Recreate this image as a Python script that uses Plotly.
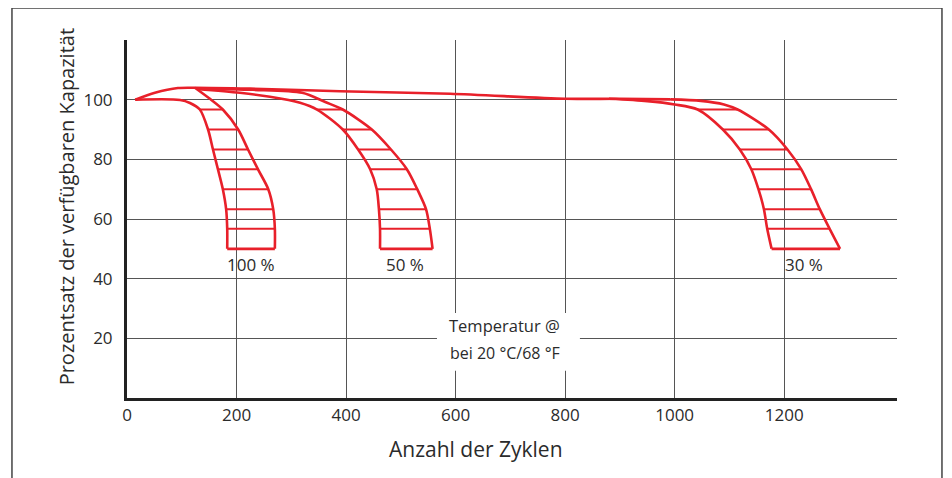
import plotly.graph_objects as go

RED = "#E8202A"
FONT = "Open Sans"
TXT = "#2b2b2b"

# Hatch levels (percent capacity) shared by all three bands
LEVELS = [96.7, 90.0, 83.3, 76.7, 70.0, 63.3, 56.7, 50.0]

# Long upper envelope line (cycles, %)
env_x = [15, 51, 93, 124, 225, 389, 590, 800, 900, 992]
env_y = [100, 102.3, 103.9, 104.0, 103.7, 102.8, 102.0, 100.3, 100.3, 100.1]

# 100 % depth of discharge band
b100_left_top_x = [15, 97, 115]
b100_left_top_y = [100, 99.9, 98.9]
b100_right_top_x = [124, 152]
b100_right_top_y = [104.0, 100.2]
b100_left = [133, 148, 157, 166, 175, 181, 183, 183]
b100_right = [175, 203, 221, 239, 258, 267, 270, 270]

# 50 % band
b50_left_top_x = [128, 206, 261, 316]
b50_left_top_y = [103.6, 102.3, 101.0, 99.0]
b50_right_top_x = [128, 230, 320, 362]
b50_right_top_y = [103.7, 103.3, 102.3, 99.2]
b50_left = [347, 394, 422, 444, 456, 460, 462, 462]
b50_right = [394, 447, 482, 511, 530, 546, 553, 558]

# 30 % band
b30_left_top_x = [880, 950, 1000]
b30_left_top_y = [100.3, 99.5, 98.4]
b30_right_top_x = [992, 1048, 1090]
b30_right_top_y = [100.1, 99.6, 98.4]
b30_left = [1042, 1088, 1119, 1140, 1153, 1163, 1169, 1177]
b30_right = [1115, 1172, 1206, 1231, 1249, 1265, 1283, 1302]

band_labels = ["100 %", "50 %", "30 %"]
label_x = [226, 507, 1237]
label_y = [44.6, 44.6, 44.6]

x_ticks = [0, 200, 400, 600, 800, 1000, 1200]
y_ticks = [20, 40, 60, 80, 100]

fig = go.Figure()

def add_line(x, y, width=2.6, spline=True):
    fig.add_trace(go.Scatter(
        x=x, y=y, mode="lines",
        line=dict(color=RED, width=width, shape="spline" if spline else "linear", smoothing=0.8),
        hoverinfo="skip", showlegend=False))

add_line(env_x, env_y)

bands = [
    (b100_left_top_x, b100_left_top_y, b100_right_top_x, b100_right_top_y, b100_left, b100_right),
    (b50_left_top_x, b50_left_top_y, b50_right_top_x, b50_right_top_y, b50_left, b50_right),
    (b30_left_top_x, b30_left_top_y, b30_right_top_x, b30_right_top_y, b30_left, b30_right),
]

for ltx, lty, rtx, rty, lx, rx in bands:
    add_line(ltx + lx, lty + LEVELS)
    add_line(rtx + rx, rty + LEVELS)
    add_line([lx[-1], rx[-1]], [LEVELS[-1], LEVELS[-1]], spline=False)
    hx, hy = [], []
    for l, r, lev in zip(lx[:-1], rx[:-1], LEVELS[:-1]):
        hx += [l, r, None]
        hy += [lev, lev, None]
    add_line(hx, hy, width=2.0, spline=False)

for t, x, y in zip(band_labels, label_x, label_y):
    fig.add_annotation(x=x, y=y, text=t, showarrow=False,
                       font=dict(family=FONT, size=17, color=TXT))

# white box behind temperature note
fig.add_shape(type="rect", xref="x", yref="y", x0=566, x1=827, y0=9.1, y1=28.5,
              fillcolor="white", line=dict(width=0), layer="between")
fig.add_annotation(x=690, y=24.2, text="Temperatur @", showarrow=False,
                   font=dict(family=FONT, size=16.5, color=TXT))
fig.add_annotation(x=690, y=15.1, text="bei 20 °C/68 °F", showarrow=False,
                   font=dict(family=FONT, size=16, color=TXT))

# axis titles
fig.add_annotation(xref="paper", yref="paper", x=0.453, y=-0.142,
                   xanchor="center", yanchor="middle",
                   text="Anzahl der Zyklen", showarrow=False,
                   font=dict(family=FONT, size=21, color=TXT))
fig.add_annotation(xref="paper", yref="paper", x=-0.079, y=0.533,
                   xanchor="center", yanchor="middle",
                   text="Prozentsatz der verfügbaren Kapazität", textangle=-90,
                   showarrow=False, font=dict(family=FONT, size=20, color=TXT))

# outer frame
fig.add_shape(type="rect", xref="paper", yref="paper",
              x0=-0.1494, x1=1.0584, y0=-0.3, y1=1.0894,
              line=dict(color="#444", width=1.5), layer="above")

fig.update_xaxes(range=[0, 1406], tickvals=x_ticks, ticktext=[str(v) for v in x_ticks],
                 showgrid=True, gridcolor="#555", gridwidth=1.2,
                 showline=True, linecolor="#222", linewidth=3, zeroline=False,
                 ticks="", tickfont=dict(family=FONT, size=17, color=TXT))
fig.update_yaxes(range=[0, 120], tickvals=y_ticks, ticktext=[str(v) for v in y_ticks],
                 showgrid=True, gridcolor="#555", gridwidth=1.2,
                 showline=True, linecolor="#222", linewidth=3, zeroline=False,
                 ticks="", ticklabelstandoff=8,
                 tickfont=dict(family=FONT, size=17, color=TXT))

# page body has an 8 px margin, so the plot area is placed 8 px up/left
fig.update_layout(width=952, height=478, plot_bgcolor="white", paper_bgcolor="white",
                  margin=dict(l=119, r=63, t=32, b=88), showlegend=False)

fig.write_html("out.html")
